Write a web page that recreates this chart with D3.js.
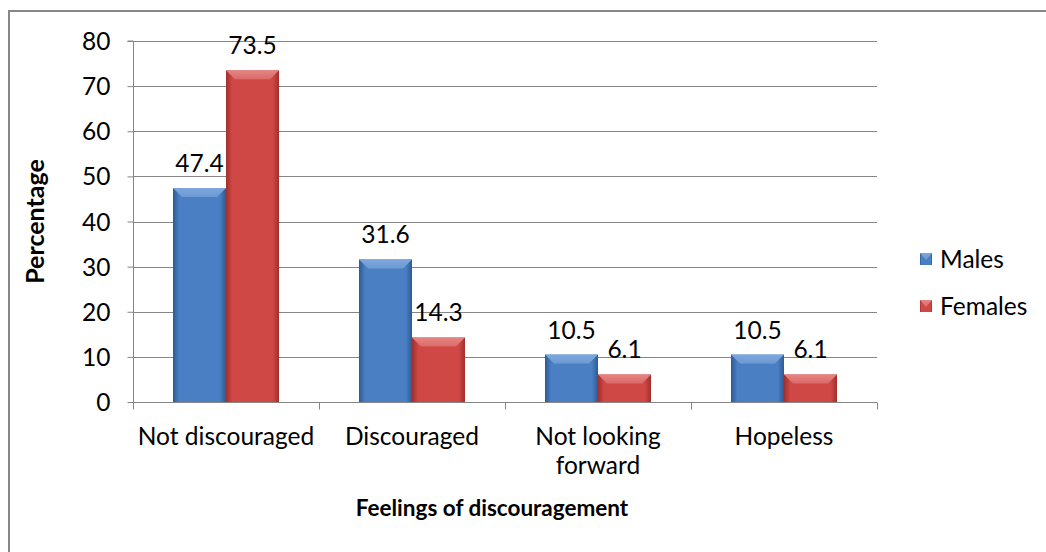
<!DOCTYPE html>
<html>
<head>
<meta charset="utf-8">
<script src="https://cdn.jsdelivr.net/npm/d3@7"></script>
<style>
  html, body { margin: 0; padding: 0; background: #fff; }
  svg { display: block; }
  text { font-family: Lato, "Open Sans", "DejaVu Sans", sans-serif; fill: #000; }
</style>
</head>
<body>
<svg id="chart" width="1046" height="552"></svg>
<script>
// Chart data
const categories = [["Not discouraged"], ["Discouraged"], ["Not looking", "forward"], ["Hopeless"]];
const seriesNames = ["Males", "Females"];
const males = [47.4, 31.6, 10.5, 10.5];
const females = [73.5, 14.3, 6.1, 6.1];
const yTicks = [0, 10, 20, 30, 40, 50, 60, 70, 80];
const yTitle = "Percentage";
const xTitle = "Feelings of discouragement";

const W = 1046, H = 552;
const FS = 24.5;
const svg = d3.select("#chart");

// Outer chart frame
svg.append("rect")
  .attr("x", 9).attr("y", 11)
  .attr("width", W + 10).attr("height", H + 10)
  .attr("fill", "#fff").attr("stroke", "#878787").attr("stroke-width", 2);

const plot = { left: 133, right: 877, top: 41, bottom: 402 };

const x0 = d3.scaleBand()
  .domain(d3.range(categories.length))
  .range([plot.left, plot.right])
  .paddingInner(0.43).paddingOuter(0.215);
const x1 = d3.scaleBand()
  .domain(seriesNames)
  .range([0, x0.bandwidth()]);
const y = d3.scaleLinear().domain([0, 80]).range([plot.bottom, plot.top]);

// Gradients for bevelled bars
const defs = svg.append("defs");
const palettes = {
  Males:   { edge: "#2c5a95", mid: "#4a80c3", light: "#6d9ad4", top: "#7da7dc" },
  Females: { edge: "#a12e2c", mid: "#d04846", light: "#db6a68", top: "#e48684" }
};
seriesNames.forEach(name => {
  const p = palettes[name];
  const g = defs.append("linearGradient").attr("id", "grad-" + name)
    .attr("x1", "0").attr("x2", "1").attr("y1", "0").attr("y2", "0");
  g.append("stop").attr("offset", "0").attr("stop-color", p.edge);
  g.append("stop").attr("offset", "0.12").attr("stop-color", p.mid);
  g.append("stop").attr("offset", "0.5").attr("stop-color", p.mid);
  g.append("stop").attr("offset", "0.88").attr("stop-color", p.mid);
  g.append("stop").attr("offset", "1").attr("stop-color", p.edge);
  const t = defs.append("linearGradient").attr("id", "top-" + name)
    .attr("x1", "0").attr("x2", "0").attr("y1", "0").attr("y2", "1");
  t.append("stop").attr("offset", "0").attr("stop-color", p.top);
  t.append("stop").attr("offset", "1").attr("stop-color", p.light);
});

// Gridlines
svg.append("g").selectAll("line").data(yTicks.filter(d => d > 0)).join("line")
  .attr("x1", plot.left).attr("x2", plot.right)
  .attr("y1", d => Math.round(y(d)) + 0.5).attr("y2", d => Math.round(y(d)) + 0.5)
  .attr("stroke", "#868686").attr("stroke-width", 1);

// Y axis
const yAxis = svg.append("g")
  .attr("transform", `translate(${plot.left + 0.5},0)`)
  .call(d3.axisLeft(y).tickValues(yTicks).tickSize(6).tickPadding(17).tickFormat(d3.format("d")));
yAxis.select(".domain").attr("stroke", "#868686").attr("d", `M-6,${y(80)}H0V${y(0)}`);
yAxis.selectAll(".tick line").attr("stroke", "#868686");
yAxis.selectAll(".tick text").attr("font-size", FS).style("font-family", "Lato, sans-serif").attr("dy", "0.35em");

// X axis
const xAxis = svg.append("g").attr("transform", `translate(0,${plot.bottom + 0.5})`);
xAxis.append("line").attr("x1", plot.left).attr("x2", plot.right)
  .attr("stroke", "#868686");
const tickXs = d3.range(categories.length + 1).map(i => plot.left + i * (plot.right - plot.left) / categories.length);
xAxis.selectAll("line.tk").data(tickXs).join("line").attr("class", "tk")
  .attr("x1", d => Math.round(d) + 0.5).attr("x2", d => Math.round(d) + 0.5)
  .attr("y1", 0).attr("y2", 7).attr("stroke", "#868686");

// Category labels
const catLabels = svg.append("g").selectAll("text").data(categories).join("text")
  .attr("x", (d, i) => x0(i) + x0.bandwidth() / 2)
  .attr("y", 445)
  .attr("text-anchor", "middle")
  .attr("font-size", FS);
catLabels.selectAll("tspan").data(d => d).join("tspan")
  .attr("x", function () { return this.parentNode.getAttribute("x"); })
  .attr("dy", (d, i) => i === 0 ? 0 : 29)
  .text(d => d);

// Bars
const data = categories.map((c, i) => ({ i, values: [
  { name: "Males", value: males[i] },
  { name: "Females", value: females[i] }
]}));

const groups = svg.append("g").selectAll("g").data(data).join("g")
  .attr("transform", d => `translate(${x0(d.i)},0)`);

const bars = groups.selectAll("g").data(d => d.values).join("g");
bars.append("rect")
  .attr("x", d => x1(d.name))
  .attr("y", d => y(d.value))
  .attr("width", x1.bandwidth())
  .attr("height", d => y(0) - y(d.value))
  .attr("fill", d => `url(#grad-${d.name})`);
// Top bevel
bars.append("path")
  .attr("d", d => {
    const bx = x1(d.name), bw = x1.bandwidth(), by = y(d.value);
    const b = Math.min(9, (y(0) - by) / 2);
    return `M${bx},${by}H${bx + bw}L${bx + bw - b},${by + b}H${bx + b}Z`;
  })
  .attr("fill", d => `url(#top-${d.name})`);
// Value labels
bars.append("text")
  .attr("x", d => x1(d.name) + x1.bandwidth() / 2)
  .attr("y", d => y(d.value) - 16)
  .attr("text-anchor", "middle")
  .attr("font-size", FS)
  .text(d => d.value.toFixed(1));

// Axis titles
svg.append("text")
  .attr("transform", `translate(44,${(plot.top + plot.bottom) / 2}) rotate(-90)`)
  .attr("text-anchor", "middle")
  .attr("font-size", 25).attr("font-weight", "bold")
  .text(yTitle);
svg.append("text")
  .attr("x", (plot.left + plot.right) / 2 - 13).attr("y", 516)
  .attr("text-anchor", "middle")
  .attr("font-size", 22.5).attr("font-weight", "bold")
  .text(xTitle);

// Legend
const legend = svg.append("g").selectAll("g").data(seriesNames).join("g")
  .attr("transform", (d, i) => `translate(920,${253 + i * 47})`);
legend.append("rect").attr("width", 12).attr("height", 12)
  .attr("fill", d => `url(#grad-${d})`);
legend.append("path").attr("d", "M0,0H12L6,7Z")
  .attr("fill", d => `url(#top-${d})`);
legend.append("text").attr("x", 20).attr("y", 6).attr("dy", "0.35em")
  .attr("font-size", FS).text(d => d);
</script>
</body>
</html>
